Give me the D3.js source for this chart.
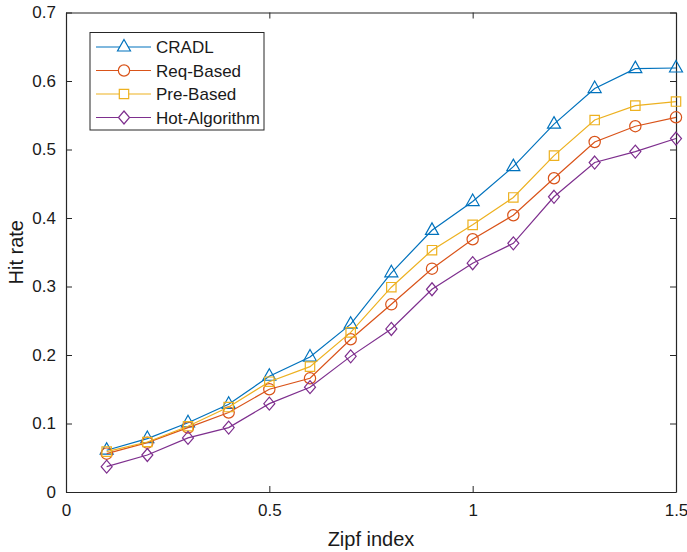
<!DOCTYPE html>
<html>
<head>
<meta charset="utf-8">
<script src="https://cdn.jsdelivr.net/npm/d3@7"></script>
<style>
  body { margin: 0; background: #fff; }
  svg { font-family: "Liberation Sans", Arial, sans-serif; }
</style>
</head>
<body>
<svg width="687" height="552"></svg>
<script>
const zipf = [0.1, 0.2, 0.3, 0.4, 0.5, 0.6, 0.7, 0.8, 0.9, 1.0, 1.1, 1.2, 1.3, 1.4, 1.5]
const cradl = [0.061, 0.078, 0.101, 0.128, 0.169, 0.197, 0.245, 0.320, 0.382, 0.424, 0.475, 0.537, 0.589, 0.618, 0.619]
const reqBased = [0.056, 0.072, 0.094, 0.116, 0.150, 0.166, 0.223, 0.274, 0.326, 0.369, 0.404, 0.458, 0.511, 0.534, 0.547]
const preBased = [0.059, 0.073, 0.096, 0.124, 0.161, 0.183, 0.233, 0.299, 0.353, 0.390, 0.430, 0.491, 0.543, 0.564, 0.570]
const hotAlgo = [0.037, 0.054, 0.079, 0.094, 0.129, 0.153, 0.198, 0.238, 0.296, 0.334, 0.363, 0.431, 0.481, 0.497, 0.516]
const xTicks = [0, 0.5, 1, 1.5]
const yTicks = [0, 0.1, 0.2, 0.3, 0.4, 0.5, 0.6, 0.7]

const series = [
  {name: "CRADL", vals: cradl, color: "#0072BD", marker: "tri"},
  {name: "Req-Based", vals: reqBased, color: "#D95319", marker: "circ"},
  {name: "Pre-Based", vals: preBased, color: "#EDB120", marker: "sq"},
  {name: "Hot-Algorithm", vals: hotAlgo, color: "#7E2F8E", marker: "dia"}
]

const svg = d3.select("svg")
const mLeft = 66, mRight = 676, mTop = 12.5, mBottom = 492
const x = d3.scaleLinear().domain([0, 1.5]).range([mLeft, mRight])
const y = d3.scaleLinear().domain([0, 0.7]).range([mBottom, mTop])
const axisColor = "#262626"

// axes box with inward ticks
function fmt(d){ return d === 0 ? "0" : String(d) }
let gx = svg.append("g").attr("transform", `translate(0,${mBottom})`)
  .call(d3.axisBottom(x).tickValues(xTicks).tickFormat(fmt).tickSizeInner(-6).tickSizeOuter(0).tickPadding(12))
let gxTop = svg.append("g").attr("transform", `translate(0,${mTop})`)
  .call(d3.axisTop(x).tickValues(xTicks).tickFormat("").tickSizeInner(-6).tickSizeOuter(0))
let gy = svg.append("g").attr("transform", `translate(${mLeft},0)`)
  .call(d3.axisLeft(y).tickValues(yTicks).tickFormat(fmt).tickSizeInner(-6).tickSizeOuter(0).tickPadding(10))
let gyRight = svg.append("g").attr("transform", `translate(${mRight},0)`)
  .call(d3.axisRight(y).tickValues(yTicks).tickFormat("").tickSizeInner(-6).tickSizeOuter(0))

;[gx, gxTop, gy, gyRight].forEach(g => {
  g.selectAll("path").attr("stroke", axisColor).attr("stroke-width", 1.2)
  g.selectAll("line").attr("stroke", axisColor).attr("stroke-width", 1)
  g.selectAll("text").attr("fill", "#1a1a1a").style("font-size", "17px").style("font-family", "Liberation Sans, Arial, sans-serif")
})

// markers
function markerPath(type){
  if (type === "tri") return "M0,-7.5L6.5,4L-6.5,4Z"
  if (type === "circ") return d3.symbol(d3.symbolCircle, 100)()
  if (type === "sq") return "M-4.7,-4.7H4.7V4.7H-4.7Z"
  return "M0,-6.5L5.5,0L0,6.5L-5.5,0Z"
}

let line = d3.line().x(d => x(d[0])).y(d => y(d[1]))

series.forEach(s => {
  let pts = zipf.map((z, i) => [z, s.vals[i]])
  svg.append("path").datum(pts)
    .attr("d", line)
    .attr("fill", "none")
    .attr("stroke", s.color)
    .attr("stroke-width", 1.2)
  svg.append("g").selectAll("path").data(pts).enter().append("path")
    .attr("transform", d => `translate(${x(d[0])},${y(d[1])})`)
    .attr("d", markerPath(s.marker))
    .attr("fill", "none")
    .attr("stroke", s.color)
    .attr("stroke-width", 1.2)
})

// legend
let lg = svg.append("g")
lg.append("rect").attr("x", 90).attr("y", 32.5).attr("width", 174).attr("height", 97.5)
  .attr("fill", "#fff").attr("stroke", axisColor).attr("stroke-width", 1)
series.forEach((s, i) => {
  let ly = 47 + i * 23.5
  lg.append("line").attr("x1", 96).attr("x2", 151).attr("y1", ly).attr("y2", ly)
    .attr("stroke", s.color).attr("stroke-width", 1.2)
  lg.append("path").attr("transform", `translate(124,${ly})`).attr("d", markerPath(s.marker))
    .attr("fill", "#fff").attr("stroke", s.color).attr("stroke-width", 1.2)
  lg.append("text").attr("x", 156).attr("y", ly + 6).text(s.name)
    .style("font-size", "17px").attr("fill", "#1a1a1a")
})

// axis labels
svg.append("text").attr("x", (mLeft + mRight) / 2).attr("y", 546).attr("text-anchor", "middle")
  .style("font-size", "20px").attr("fill", "#1a1a1a").text("Zipf index")
svg.append("text").attr("transform", `translate(23,${(mTop + mBottom) / 2}) rotate(-90)`)
  .attr("text-anchor", "middle").style("font-size", "20px").attr("fill", "#1a1a1a").text("Hit rate")
</script>
</body>
</html>
